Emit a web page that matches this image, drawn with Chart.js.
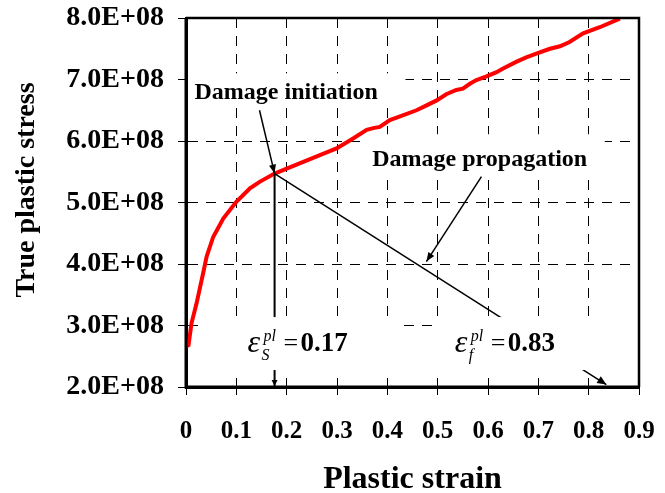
<!DOCTYPE html>
<html>
<head>
<meta charset="utf-8">
<script src="https://cdn.jsdelivr.net/npm/chart.js@4.4.0/dist/chart.umd.min.js"></script>
<style>
  html, body { margin: 0; padding: 0; background: #fff; }
</style>
</head>
<body>
<canvas id="stressChart" width="665" height="493"></canvas>
<script>
// true stress vs plastic strain
const strain = [0.000, 0.005, 0.007, 0.011, 0.021, 0.034, 0.041, 0.054, 0.074, 0.100,
  0.127, 0.147, 0.176, 0.200, 0.233, 0.266, 0.299, 0.332, 0.359, 0.372,
  0.385, 0.405, 0.432, 0.458, 0.478, 0.498, 0.517, 0.537, 0.550, 0.564,
  0.577, 0.597, 0.617, 0.630, 0.657, 0.676, 0.696, 0.723, 0.743, 0.762,
  0.789, 0.822, 0.862];
const stress = [2.66e8, 2.68e8, 2.80e8, 3.04e8, 3.36e8, 3.85e8, 4.12e8, 4.44e8, 4.74e8, 5.01e8,
  5.23e8, 5.34e8, 5.47e8, 5.55e8, 5.66e8, 5.77e8, 5.88e8, 6.04e8, 6.18e8, 6.21e8,
  6.23e8, 6.34e8, 6.42e8, 6.50e8, 6.58e8, 6.66e8, 6.76e8, 6.83e8, 6.85e8, 6.93e8,
  6.99e8, 7.05e8, 7.12e8, 7.18e8, 7.29e8, 7.36e8, 7.42e8, 7.50e8, 7.54e8, 7.61e8,
  7.75e8, 7.85e8, 7.99e8];

const xTicks = [0, 0.1, 0.2, 0.3, 0.4, 0.5, 0.6, 0.7, 0.8, 0.9];
const xTickLabels = ["0", "0.1", "0.2", "0.3", "0.4", "0.5", "0.6", "0.7", "0.8", "0.9"];
const yTicks = [2e8, 3e8, 4e8, 5e8, 6e8, 7e8, 8e8];
const yTickLabels = ["2.0E+08", "3.0E+08", "4.0E+08", "5.0E+08", "6.0E+08", "7.0E+08", "8.0E+08"];

// damage initiation point and the linear damage line down to failure
const initStrain = 0.176;
const initStress = 5.47e8;
const failStrain = 0.835;
const failStress = 2.04e8;
const baseStress = 2.0e8;

const serif = '"Liberation Serif", "Times New Roman", serif';

// white boxes behind the labels (data units: [x0, x1], [yTop, yBottom])
const labelBoxes = [
  { x: [0.039, 0.423], y: [3.137e8, 2.276e8] },
  { x: [0.490, 0.899], y: [3.137e8, 2.276e8] },
  { x: [0.004, 0.436], y: [7.10e8, 6.55e8] },
  { x: [0.355, 0.832], y: [6.11e8, 5.43e8] },
];
const textLabels = [
  { text: "Damage initiation", x: 0.199, y: 6.79e8 },
  { text: "Damage propagation", x: 0.5835, y: 5.70e8 },
];
const pointerArrows = [
  { from: [0.146, 6.50e8], to: [initStrain, initStress] },
  { from: [0.587, 5.42e8], to: [0.4776, 4.04e8] },
];
const strainLabels = [
  { sub: "S", value: "0.17", x: 0.122, y: 2.585e8 },
  { sub: "f", value: "0.83", x: 0.534, y: 2.585e8 },
];

function arrowHead(ctx, x1, y1, x2, y2, len, half) {
  const a = Math.atan2(y2 - y1, x2 - x1);
  const c = Math.cos(a), s = Math.sin(a);
  ctx.beginPath();
  ctx.moveTo(x2, y2);
  ctx.lineTo(x2 - len * c + half * s, y2 - len * s - half * c);
  ctx.lineTo(x2 - len * c - half * s, y2 - len * s + half * c);
  ctx.closePath();
  ctx.fill();
}

const annotations = {
  id: "annotations",
  afterDatasetsDraw(chart) {
    const { ctx, chartArea: area, scales: { x, y } } = chart;
    const px = v => x.getPixelForValue(v);
    const py = v => y.getPixelForValue(v);
    ctx.save();

    ctx.fillStyle = "#fff";
    labelBoxes.forEach(b => {
      const x0 = px(b.x[0]), x1 = px(b.x[1]);
      const y0 = py(b.y[0]), y1 = py(b.y[1]);
      ctx.fillRect(x0, y0, x1 - x0, y1 - y0);
    });

    ctx.fillStyle = "#000";
    ctx.strokeStyle = "#000";

    // arrow tips of the damage lines
    arrowHead(ctx, px(initStrain), py(initStress), px(failStrain), py(failStress), 9, 4);
    arrowHead(ctx, px(initStrain), py(initStress), px(initStrain), py(baseStress) - 1, 6, 3);

    ctx.lineWidth = 1.5;
    pointerArrows.forEach(a => {
      const x1 = px(a.from[0]), y1 = py(a.from[1]);
      const x2 = px(a.to[0]), y2 = py(a.to[1]);
      ctx.beginPath();
      ctx.moveTo(x1, y1);
      ctx.lineTo(x2, y2);
      ctx.stroke();
      arrowHead(ctx, x1, y1, x2, y2, 9, 3.5);
    });

    ctx.font = "bold 24px " + serif;
    ctx.textAlign = "center";
    ctx.textBaseline = "middle";
    textLabels.forEach(t => ctx.fillText(t.text, px(t.x), py(t.y)));

    ctx.textAlign = "left";
    ctx.textBaseline = "alphabetic";
    strainLabels.forEach(l => {
      const x0 = px(l.x), base = py(l.y);
      ctx.font = "italic 32px " + serif;
      ctx.fillText("\u03B5", x0, base + 1);
      ctx.font = "italic 16px " + serif;
      ctx.fillText("pl", x0 + 16, base - 10);
      ctx.fillText(l.sub, x0 + 14, base + 9);
      ctx.font = "26px " + serif;
      ctx.fillText("=", x0 + 36, base);
      ctx.font = "bold 27px " + serif;
      ctx.fillText(l.value, x0 + 53, base);
    });

    // plot frame
    ctx.lineWidth = 3;
    ctx.beginPath();
    ctx.moveTo(area.left, area.top);
    ctx.lineTo(area.left, area.bottom);
    ctx.lineTo(area.right, area.bottom);
    ctx.stroke();
    ctx.lineWidth = 2.5;
    ctx.beginPath();
    ctx.moveTo(area.left, area.top);
    ctx.lineTo(area.right, area.top);
    ctx.lineTo(area.right, area.bottom);
    ctx.stroke();

    // y axis title
    ctx.font = "bold 28px " + serif;
    ctx.textAlign = "center";
    ctx.textBaseline = "middle";
    ctx.translate(27, 190);
    ctx.rotate(-Math.PI / 2);
    ctx.fillText("True plastic stress", 0, 0);

    ctx.restore();
  },
};

const gridDash = [10, 8];

new Chart(document.getElementById("stressChart"), {
  type: "scatter",
  data: {
    datasets: [
      {
        label: "Damage evolution",
        data: [{ x: initStrain, y: initStress }, { x: failStrain, y: failStress }],
        showLine: true,
        borderColor: "#000",
        borderWidth: 1.5,
        pointRadius: 0,
      },
      {
        label: "Initiation strain",
        data: [{ x: initStrain, y: initStress }, { x: initStrain, y: baseStress }],
        showLine: true,
        borderColor: "#000",
        borderWidth: 2,
        pointRadius: 0,
      },
      {
        label: "True plastic stress",
        data: strain.map((s, i) => ({ x: s, y: stress[i] })),
        showLine: true,
        borderColor: "#ff0000",
        borderWidth: 4,
        pointRadius: 0,
        tension: 0,
      },
    ],
  },
  options: {
    responsive: false,
    animation: false,
    layout: {
      padding: { left: 0, right: 26, top: 18, bottom: 0 },
    },
    plugins: {
      legend: { display: false },
      tooltip: { enabled: false },
    },
    scales: {
      x: {
        type: "linear",
        min: 0,
        max: 0.9,
        afterFit: s => {
          s.height = 106;
          s.paddingLeft = 0;
          s.paddingRight = 0;
        },
        afterBuildTicks: s => { s.ticks = xTicks.map(v => ({ value: v })); },
        ticks: {
          callback: (v, i) => xTickLabels[i],
          color: "#000",
          font: { family: serif, size: 25, weight: "bold" },
          padding: 22,
          maxRotation: 0,
          autoSkip: false,
        },
        grid: {
          color: "#000",
          lineWidth: 1,
          tickLength: 8,
          tickColor: "#000",
        },
        border: { display: true, color: "#000", width: 3, dash: gridDash },
        title: {
          display: true,
          text: "Plastic strain",
          color: "#000",
          font: { family: serif, size: 32, weight: "bold", lineHeight: 1 },
          padding: { top: 0, bottom: -3 },
        },
      },
      y: {
        type: "linear",
        min: 2e8,
        max: 8e8,
        afterFit: s => {
          s.width = 186;
          s.paddingTop = 0;
          s.paddingBottom = 0;
        },
        afterBuildTicks: s => { s.ticks = yTicks.map(v => ({ value: v })); },
        ticks: {
          callback: (v, i) => yTickLabels[i],
          color: "#000",
          font: { family: serif, size: 28, weight: "bold" },
          padding: 14,
          autoSkip: false,
        },
        grid: {
          color: "#000",
          lineWidth: 1,
          tickLength: 8,
          tickColor: "#000",
        },
        border: { display: true, color: "#000", width: 3, dash: gridDash },
      },
    },
  },
  plugins: [annotations],
});
</script>
</body>
</html>
